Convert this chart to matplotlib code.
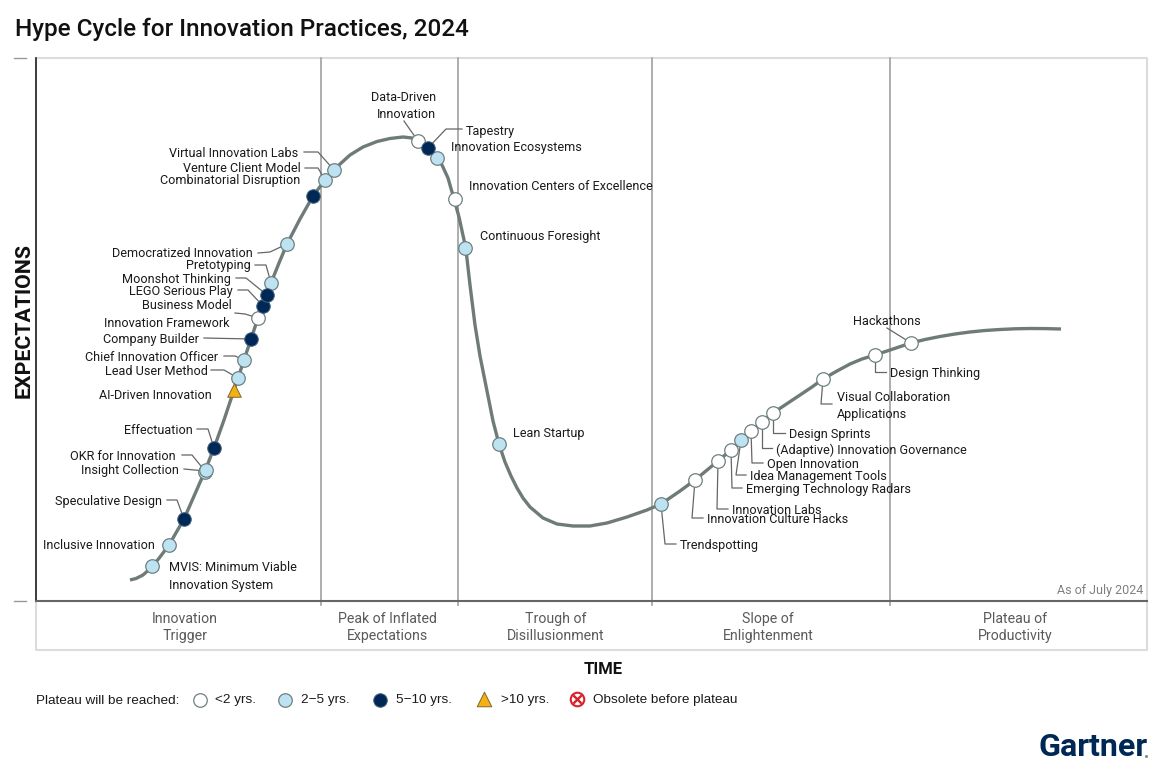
import matplotlib
matplotlib.use("Agg")
from matplotlib import pyplot as plt

plt.rcParams['font.family'] = ['Roboto', 'DejaVu Sans']

# curve (x, y in image pixels)
curve_x = [130, 136, 143, 152, 160, 169, 184, 198, 205, 214, 224, 234, 238, 244, 251, 258, 263, 267, 271, 279,
           287, 300, 313, 325, 334, 339, 350, 363, 377, 390, 403, 412, 418, 428, 437, 442, 448, 454, 459, 464,
           466, 470, 475, 480, 487, 493, 499, 505, 511, 517, 523, 530, 543, 557, 573, 590, 607, 627, 647, 661,
           680, 695, 718, 731, 741, 751, 762, 773, 800, 812, 823, 837, 850, 862, 875, 890, 911, 925, 940, 955,
           970, 985, 1000, 1015, 1030, 1045, 1061]
curve_y = [580, 578.5, 575, 567, 557, 545, 519, 487, 471, 448, 420, 390, 378, 360, 339, 318, 306, 295, 283, 263,
           244, 219, 196, 180, 170, 165, 155, 147, 141.5, 138.5, 137, 138, 141, 148, 158, 165, 178, 199, 217, 240,
           250, 285, 325, 356, 391, 421, 444, 462, 476, 488, 498, 507, 518, 524, 526, 526, 523, 517, 510, 504,
           491, 480, 461, 450, 440, 431, 422, 413, 395, 387, 379, 371, 364, 359, 355, 350, 343, 339.5, 336.5, 334,
           332, 330.5, 329.5, 328.8, 328.5, 328.6, 329]

# innovations by time to plateau
under2_x = [258, 418, 455, 695, 718, 731, 751, 762, 773, 823, 875, 911]
under2_y = [318, 141, 199, 480, 461, 450, 431, 422, 413, 379, 355, 343]
to5_x = [152, 169, 205, 206, 238, 244, 271, 287, 325, 334, 437, 465, 499, 661, 741]
to5_y = [566, 545, 472, 470, 378, 360, 283, 244, 180, 170, 158, 248, 444, 504, 440]
to10_x = [184, 214, 251, 263, 267, 313, 428]
to10_y = [519, 448, 339, 306, 295, 196, 148]
over10_x = [234]
over10_y = [390]

# label text, x, y, alignment
labels_left = [
    ("Virtual Innovation Labs", 298, 153), ("Venture Client Model", 301, 168),
    ("Combinatorial Disruption", 300, 180), ("Democratized Innovation", 253, 253),
    ("Pretotyping", 251, 265), ("Moonshot Thinking", 231, 279), ("LEGO Serious Play", 233, 291),
    ("Business Model", 232, 305), ("Innovation Framework", 229, 323), ("Company Builder", 199, 339),
    ("Chief Innovation Officer", 218, 357), ("Lead User Method", 208, 371),
    ("AI-Driven Innovation", 212, 395), ("Effectuation", 193, 430), ("OKR for Innovation", 176, 456),
    ("Insight Collection", 179, 470), ("Speculative Design", 162, 501), ("Inclusive Innovation", 155, 545),
    ("Data-Driven", 436, 97), ("Innovation", 436, 114),
]
labels_right = [
    ("MVIS: Minimum Viable", 169, 567), ("Innovation System", 169, 585), ("Tapestry", 466, 131),
    ("Innovation Ecosystems", 451, 147), ("Innovation Centers of Excellence", 469, 186),
    ("Continuous Foresight", 480, 236), ("Lean Startup", 513, 433), ("Trendspotting", 680, 545),
    ("Innovation Culture Hacks", 707, 519), ("Innovation Labs", 732, 510),
    ("Emerging Technology Radars", 746, 489), ("Idea Management Tools", 750, 476),
    ("Open Innovation", 767, 464), ("(Adaptive) Innovation Governance", 776, 449),
    ("Design Sprints", 789, 434), ("Visual Collaboration", 837, 397), ("Applications", 837, 414),
    ("Design Thinking", 890, 373), ("Hackathons", 853, 321),
]

leaders = [
    [(304, 152), (318, 152), (334, 170)], [(305, 168), (318, 168), (325, 180)],
    [(258, 253), (270, 252), (287, 244)], [(255, 265), (266, 265), (271, 283)],
    [(236, 278), (246, 278), (267, 295)], [(238, 290), (248, 290), (263, 306)],
    [(235, 313), (245, 314), (258, 318)], [(204, 338), (251, 339)],
    [(224, 356), (235, 356), (244, 360)], [(211, 370), (224, 370), (238, 378)],
    [(197, 429), (208, 429), (214, 448)], [(182, 455), (192, 455), (205, 471)],
    [(184, 469), (205, 471)], [(167, 500), (177, 500), (184, 519)],
    [(404, 121), (418, 141)], [(462, 129), (446, 129), (428, 148)],
    [(661, 504), (665, 544), (676, 544)], [(695, 480), (692, 518), (703, 518)],
    [(718, 461), (717, 509), (728, 509)], [(731, 450), (732, 488), (742, 488)],
    [(741, 440), (736, 475), (746, 475)], [(751, 431), (752, 463), (763, 463)],
    [(762, 422), (762, 448), (772, 448)], [(773, 413), (773, 433), (785, 433)],
    [(823, 379), (821, 404), (832, 404)], [(875, 355), (875, 372), (886, 372)],
    [(887, 328), (911, 343)],
]

phase_names = ["Innovation\nTrigger", "Peak of Inflated\nExpectations", "Trough of\nDisillusionment",
               "Slope of\nEnlightenment", "Plateau of\nProductivity"]
phase_x = [185, 387, 556, 768, 1015]
phase_edges = [321, 458, 652, 890]

legend_names = ["<2 yrs.", "2\u22125 yrs.", "5\u221210 yrs.", ">10 yrs.", "Obsolete before plateau"]
legend_text_x = [215, 301, 396, 501, 593]

NAVY = "#002856"
BLUE = "#bde3f2"
EDGE = "#6f8080"
TXT = "#1a1a1a"

fig = plt.figure(figsize=(11.7, 7.71), dpi=100)
ax = fig.add_axes([0, 0, 1, 1])
ax.set_xlim(0, 1170)
ax.set_ylim(771, 0)
ax.axis("off")

# frame
ax.plot([36, 1147, 1147, 36, 36], [58, 58, 650, 650, 58], color="#dcdcdc", lw=1.5, zorder=1)
for x in phase_edges:
    ax.plot([x, x], [58, 605], color="#a0a0a0", lw=1.2, zorder=2)
ax.plot([36, 36], [58, 601], color="#111111", lw=1.1, zorder=3)
ax.plot([36, 1147], [601, 601], color="#666666", lw=1.5, zorder=3)
ax.plot([14, 26], [58, 58], color="#999999", lw=1, zorder=3)
ax.plot([14, 26], [601, 601], color="#999999", lw=1, zorder=3)

ax.plot(curve_x, curve_y, color="#6f7b78", lw=2.4, solid_capstyle="butt", solid_joinstyle="round", zorder=4)

for pts in leaders:
    ax.plot([p[0] for p in pts], [p[1] for p in pts], color="#666666", lw=0.9, zorder=4)

ax.scatter(under2_x, under2_y, s=95, c="white", edgecolors=EDGE, linewidths=0.9, zorder=5)
ax.scatter(to5_x, to5_y, s=95, c=BLUE, edgecolors=EDGE, linewidths=0.9, zorder=5)
ax.scatter(to10_x, to10_y, s=95, c=NAVY, edgecolors="#44607a", linewidths=0.7, zorder=5)
ax.scatter(over10_x, over10_y, s=95, c="#f5b014", marker="^", edgecolors="#7a6a30", linewidths=0.7, zorder=5)

for name, x, y in labels_left:
    ax.text(x, y + 0.8, name, ha="right", va="center", fontsize=9.1, color=TXT, zorder=6)
for name, x, y in labels_right:
    ax.text(x, y + 0.8, name, ha="left", va="center", fontsize=9.1, color=TXT, zorder=6)

for name, x in zip(phase_names, phase_x):
    ax.text(x, 627.5, name, ha="center", va="center", fontsize=10.2, color="#5a5a5a", linespacing=1.3)

ax.text(15, 29.5, "Hype Cycle for Innovation Practices, 2024", ha="left", va="center", fontsize=17.45,
        fontweight="medium", color="#111111")
ax.text(24.5, 320, "EXPECTATIONS", rotation=90, ha="center", va="center", fontsize=15.4, fontweight="bold", color="#111111")
ax.text(603, 669.5, "TIME", ha="center", va="center", fontsize=12, fontweight="bold", color="#111111")
ax.text(1143, 590.5, "As of July 2024", ha="right", va="center", fontsize=9, color="#808080")

# legend
ax.text(36, 700.5, "Plateau will be reached:", ha="left", va="center", fontsize=9.7, color=TXT, family="Liberation Sans")
for name, x in zip(legend_names, legend_text_x):
    ax.text(x, 700.5, name, ha="left", va="center", fontsize=9.7, color=TXT, family="Liberation Sans")
ax.scatter([200], [700], s=95, c="white", edgecolors=EDGE, linewidths=0.9)
ax.scatter([285], [700], s=95, c=BLUE, edgecolors=EDGE, linewidths=0.9)
ax.scatter([380], [700], s=95, c=NAVY, edgecolors="#44607a", linewidths=0.7)
ax.scatter([484], [699], s=110, c="#f5b014", marker="^", edgecolors="#7a6a30", linewidths=0.7)
ax.scatter([577], [699], s=95, c="white", edgecolors="#d8202a", linewidths=1.5)
ax.scatter([577], [699], s=35, c="#d8202a", marker="x", linewidths=1.7)

ax.text(1039, 747, "Gartner", ha="left", va="center", fontsize=23.2, fontweight="bold", color=NAVY)
ax.scatter([1146], [756], s=5, c="#7f8c8d", linewidths=0)

fig.savefig("out.png", dpi=100)
